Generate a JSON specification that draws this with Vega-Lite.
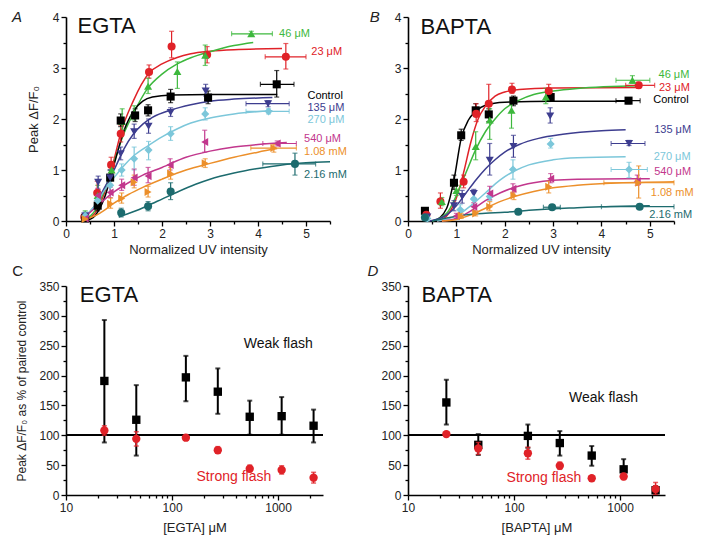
{
"$schema": "https://vega.github.io/schema/vega-lite/v6.json",
"background": "white",
"padding": {"left": 12, "top": 10, "right": 5, "bottom": 5},
"config": {
  "font": "Liberation Sans",
  "view": {"stroke": null},
  "axis": {"grid": false, "domainColor": "black", "domainWidth": 1.6, "tickColor": "black", "tickWidth": 1.3, "tickSize": 5, "labelColor": "#222", "labelFontSize": 12, "labelFont": "Liberation Sans", "titleFont": "Liberation Sans", "titleFontSize": 13, "titleFontWeight": "normal", "titleColor": "#222", "labelFlush": false, "labelPadding": 2, "labelOverlap": false}
},
"datasets": {
  "ptsA": [
    {"s":"23 μM","x":0.38,"y":0.08,"ylo":0.02,"yhi":0.14},
    {"s":"23 μM","x":0.65,"y":0.55,"ylo":0.38,"yhi":0.78},
    {"s":"23 μM","x":0.94,"y":1.1,"ylo":0.95,"yhi":1.25},
    {"s":"23 μM","x":1.14,"y":1.71,"ylo":1.55,"yhi":1.88},
    {"s":"23 μM","x":1.73,"y":2.92,"ylo":2.8,"yhi":3.06},
    {"s":"23 μM","x":2.2,"y":3.42,"ylo":3.2,"yhi":3.72},
    {"s":"23 μM","x":2.94,"y":3.26,"ylo":3.1,"yhi":3.42},
    {"s":"23 μM","x":4.58,"y":3.22,"ylo":2.98,"yhi":3.48,"xlo":4.15,"xhi":5.0},
    {"s":"46 μM","x":0.4,"y":0.12,"ylo":0.05,"yhi":0.2},
    {"s":"46 μM","x":0.66,"y":0.5,"ylo":0.32,"yhi":0.7},
    {"s":"46 μM","x":0.95,"y":1.0,"ylo":0.85,"yhi":1.15},
    {"s":"46 μM","x":1.17,"y":1.95,"ylo":1.8,"yhi":2.2},
    {"s":"46 μM","x":1.42,"y":2.12,"ylo":1.98,"yhi":2.26},
    {"s":"46 μM","x":1.71,"y":2.64,"ylo":2.5,"yhi":2.8},
    {"s":"46 μM","x":2.32,"y":2.93,"ylo":2.6,"yhi":3.12},
    {"s":"46 μM","x":2.9,"y":3.25,"ylo":3.05,"yhi":3.45},
    {"s":"46 μM","x":3.86,"y":3.67,"ylo":3.62,"yhi":3.72,"xlo":3.45,"xhi":4.3},
    {"s":"Control","x":0.4,"y":0.05,"ylo":0.0,"yhi":0.1},
    {"s":"Control","x":0.66,"y":0.3,"ylo":0.2,"yhi":0.42},
    {"s":"Control","x":0.92,"y":0.85,"ylo":0.7,"yhi":1.0},
    {"s":"Control","x":1.14,"y":1.97,"ylo":1.85,"yhi":2.1},
    {"s":"Control","x":1.44,"y":2.07,"ylo":1.95,"yhi":2.2},
    {"s":"Control","x":1.71,"y":2.17,"ylo":2.06,"yhi":2.28},
    {"s":"Control","x":2.18,"y":2.44,"ylo":2.32,"yhi":2.58},
    {"s":"Control","x":2.96,"y":2.42,"ylo":2.3,"yhi":2.55},
    {"s":"Control","x":4.39,"y":2.68,"ylo":2.43,"yhi":2.95,"xlo":4.05,"xhi":4.75},
    {"s":"135 μM","x":0.4,"y":0.1,"ylo":0.03,"yhi":0.17},
    {"s":"135 μM","x":0.67,"y":0.76,"ylo":0.62,"yhi":0.88},
    {"s":"135 μM","x":0.92,"y":0.85,"ylo":0.72,"yhi":1.0},
    {"s":"135 μM","x":1.14,"y":1.32,"ylo":1.2,"yhi":1.45},
    {"s":"135 μM","x":1.42,"y":1.75,"ylo":1.62,"yhi":1.9},
    {"s":"135 μM","x":1.72,"y":1.86,"ylo":1.72,"yhi":2.0},
    {"s":"135 μM","x":2.18,"y":2.13,"ylo":2.05,"yhi":2.22},
    {"s":"135 μM","x":2.91,"y":2.55,"ylo":2.45,"yhi":2.68},
    {"s":"135 μM","x":4.21,"y":2.3,"ylo":2.24,"yhi":2.36,"xlo":3.75,"xhi":4.65},
    {"s":"270 μM","x":0.4,"y":0.1,"ylo":0.03,"yhi":0.17},
    {"s":"270 μM","x":0.66,"y":0.4,"ylo":0.28,"yhi":0.52},
    {"s":"270 μM","x":0.92,"y":0.7,"ylo":0.56,"yhi":0.84},
    {"s":"270 μM","x":1.16,"y":1.0,"ylo":0.88,"yhi":1.12},
    {"s":"270 μM","x":1.42,"y":1.22,"ylo":1.0,"yhi":1.45},
    {"s":"270 μM","x":1.72,"y":1.39,"ylo":1.2,"yhi":1.56},
    {"s":"270 μM","x":2.18,"y":1.71,"ylo":1.58,"yhi":1.85},
    {"s":"270 μM","x":2.9,"y":2.1,"ylo":1.98,"yhi":2.22},
    {"s":"270 μM","x":4.22,"y":2.15,"ylo":2.1,"yhi":2.2,"xlo":3.75,"xhi":4.65},
    {"s":"540 μM","x":0.4,"y":0.05,"ylo":0.0,"yhi":0.1},
    {"s":"540 μM","x":0.66,"y":0.5,"ylo":0.36,"yhi":0.64},
    {"s":"540 μM","x":0.92,"y":0.56,"ylo":0.46,"yhi":0.66},
    {"s":"540 μM","x":1.16,"y":0.7,"ylo":0.6,"yhi":0.82},
    {"s":"540 μM","x":1.42,"y":0.85,"ylo":0.7,"yhi":1.02},
    {"s":"540 μM","x":1.71,"y":0.88,"ylo":0.75,"yhi":1.05},
    {"s":"540 μM","x":2.17,"y":1.1,"ylo":1.0,"yhi":1.22},
    {"s":"540 μM","x":2.89,"y":1.55,"ylo":1.35,"yhi":1.78},
    {"s":"540 μM","x":4.4,"y":1.52,"ylo":1.47,"yhi":1.57,"xlo":4.1,"xhi":4.8},
    {"s":"1.08 mM","x":0.4,"y":0.04,"ylo":0.0,"yhi":0.09},
    {"s":"1.08 mM","x":0.93,"y":0.34,"ylo":0.25,"yhi":0.45},
    {"s":"1.08 mM","x":1.16,"y":0.44,"ylo":0.35,"yhi":0.55},
    {"s":"1.08 mM","x":1.42,"y":0.76,"ylo":0.65,"yhi":0.9},
    {"s":"1.08 mM","x":1.71,"y":0.57,"ylo":0.47,"yhi":0.68},
    {"s":"1.08 mM","x":2.18,"y":0.93,"ylo":0.82,"yhi":1.05},
    {"s":"1.08 mM","x":2.9,"y":1.13,"ylo":1.05,"yhi":1.22},
    {"s":"1.08 mM","x":4.33,"y":1.43,"ylo":1.35,"yhi":1.5,"xlo":3.85,"xhi":4.8},
    {"s":"2.16 mM","x":1.15,"y":0.16,"ylo":0.08,"yhi":0.25},
    {"s":"2.16 mM","x":1.71,"y":0.29,"ylo":0.2,"yhi":0.38},
    {"s":"2.16 mM","x":2.18,"y":0.58,"ylo":0.42,"yhi":0.75},
    {"s":"2.16 mM","x":4.77,"y":1.12,"ylo":0.9,"yhi":1.33,"xlo":4.1,"xhi":5.2}
  ],
  "curveA": [
    {"s":"23 μM","x":0.35,"y":0},{"s":"23 μM","x":0.6,"y":0.15},{"s":"23 μM","x":0.8,"y":0.55},{"s":"23 μM","x":1.0,"y":1.2},{"s":"23 μM","x":1.14,"y":1.72},{"s":"23 μM","x":1.4,"y":2.35},{"s":"23 μM","x":1.73,"y":2.9},{"s":"23 μM","x":2.0,"y":3.08},{"s":"23 μM","x":2.3,"y":3.2},{"s":"23 μM","x":2.6,"y":3.28},{"s":"23 μM","x":3.0,"y":3.33},{"s":"23 μM","x":3.5,"y":3.36},{"s":"23 μM","x":4.5,"y":3.38},
    {"s":"46 μM","x":0.35,"y":0},{"s":"46 μM","x":0.6,"y":0.2},{"s":"46 μM","x":0.8,"y":0.6},{"s":"46 μM","x":1.0,"y":1.15},{"s":"46 μM","x":1.2,"y":1.7},{"s":"46 μM","x":1.4,"y":2.1},{"s":"46 μM","x":1.7,"y":2.6},{"s":"46 μM","x":2.0,"y":2.88},{"s":"46 μM","x":2.3,"y":3.07},{"s":"46 μM","x":2.6,"y":3.2},{"s":"46 μM","x":3.0,"y":3.32},{"s":"46 μM","x":3.5,"y":3.44},{"s":"46 μM","x":3.9,"y":3.5},
    {"s":"Control","x":0.4,"y":0},{"s":"Control","x":0.6,"y":0.1},{"s":"Control","x":0.8,"y":0.45},{"s":"Control","x":1.0,"y":1.1},{"s":"Control","x":1.2,"y":1.75},{"s":"Control","x":1.4,"y":2.15},{"s":"Control","x":1.6,"y":2.35},{"s":"Control","x":1.8,"y":2.43},{"s":"Control","x":2.2,"y":2.47},{"s":"Control","x":3.0,"y":2.48},{"s":"Control","x":4.4,"y":2.48},
    {"s":"135 μM","x":0.35,"y":0.05},{"s":"135 μM","x":0.6,"y":0.3},{"s":"135 μM","x":0.8,"y":0.65},{"s":"135 μM","x":1.0,"y":1.0},{"s":"135 μM","x":1.2,"y":1.4},{"s":"135 μM","x":1.4,"y":1.7},{"s":"135 μM","x":1.6,"y":1.9},{"s":"135 μM","x":1.8,"y":2.03},{"s":"135 μM","x":2.2,"y":2.18},{"s":"135 μM","x":2.6,"y":2.28},{"s":"135 μM","x":3.0,"y":2.35},{"s":"135 μM","x":3.5,"y":2.39},{"s":"135 μM","x":4.3,"y":2.42},
    {"s":"270 μM","x":0.35,"y":0.05},{"s":"270 μM","x":0.6,"y":0.3},{"s":"270 μM","x":0.8,"y":0.6},{"s":"270 μM","x":1.0,"y":0.85},{"s":"270 μM","x":1.2,"y":1.08},{"s":"270 μM","x":1.4,"y":1.27},{"s":"270 μM","x":1.7,"y":1.47},{"s":"270 μM","x":2.0,"y":1.65},{"s":"270 μM","x":2.3,"y":1.8},{"s":"270 μM","x":2.6,"y":1.92},{"s":"270 μM","x":3.0,"y":2.02},{"s":"270 μM","x":3.5,"y":2.1},{"s":"270 μM","x":4.3,"y":2.16},
    {"s":"540 μM","x":0.35,"y":0.05},{"s":"540 μM","x":0.6,"y":0.25},{"s":"540 μM","x":0.8,"y":0.42},{"s":"540 μM","x":1.0,"y":0.57},{"s":"540 μM","x":1.3,"y":0.75},{"s":"540 μM","x":1.6,"y":0.9},{"s":"540 μM","x":2.0,"y":1.05},{"s":"540 μM","x":2.5,"y":1.25},{"s":"540 μM","x":3.0,"y":1.37},{"s":"540 μM","x":3.5,"y":1.45},{"s":"540 μM","x":4.0,"y":1.5},{"s":"540 μM","x":4.6,"y":1.54},
    {"s":"1.08 mM","x":0.4,"y":0.03},{"s":"1.08 mM","x":0.7,"y":0.15},{"s":"1.08 mM","x":1.0,"y":0.35},{"s":"1.08 mM","x":1.3,"y":0.52},{"s":"1.08 mM","x":1.6,"y":0.66},{"s":"1.08 mM","x":2.0,"y":0.82},{"s":"1.08 mM","x":2.5,"y":1.0},{"s":"1.08 mM","x":3.0,"y":1.13},{"s":"1.08 mM","x":3.5,"y":1.25},{"s":"1.08 mM","x":4.0,"y":1.35},{"s":"1.08 mM","x":4.4,"y":1.42},
    {"s":"2.16 mM","x":1.1,"y":0.08},{"s":"2.16 mM","x":1.4,"y":0.18},{"s":"2.16 mM","x":1.7,"y":0.3},{"s":"2.16 mM","x":2.0,"y":0.43},{"s":"2.16 mM","x":2.3,"y":0.56},{"s":"2.16 mM","x":2.7,"y":0.72},{"s":"2.16 mM","x":3.0,"y":0.82},{"s":"2.16 mM","x":3.5,"y":0.94},{"s":"2.16 mM","x":4.0,"y":1.03},{"s":"2.16 mM","x":4.5,"y":1.1},{"s":"2.16 mM","x":5.0,"y":1.14},{"s":"2.16 mM","x":5.5,"y":1.16}
  ],
  "labA": [
    {"s":"46 μM","x":4.44,"y":3.67},{"s":"23 μM","x":5.11,"y":3.31},{"s":"Control","x":5.03,"y":2.45},{"s":"135 μM","x":5.03,"y":2.21},{"s":"270 μM","x":5.03,"y":1.99},{"s":"540 μM","x":4.96,"y":1.6},{"s":"1.08 mM","x":4.96,"y":1.36},{"s":"2.16 mM","x":4.96,"y":0.91}
  ],
  "ptsB": [
    {"s":"Control","x":0.35,"y":0.2,"ylo":0.15,"yhi":0.25},
    {"s":"Control","x":0.95,"y":0.75,"ylo":0.62,"yhi":0.9},
    {"s":"Control","x":1.1,"y":1.68,"ylo":1.58,"yhi":1.8},
    {"s":"Control","x":1.4,"y":2.17,"ylo":2.05,"yhi":2.3},
    {"s":"Control","x":1.67,"y":2.09,"ylo":1.95,"yhi":2.2},
    {"s":"Control","x":2.18,"y":2.36,"ylo":2.26,"yhi":2.45},
    {"s":"Control","x":2.95,"y":2.43,"ylo":2.35,"yhi":2.5},
    {"s":"Control","x":4.56,"y":2.36,"ylo":2.3,"yhi":2.42,"xlo":4.3,"xhi":4.8},
    {"s":"23 μM","x":0.38,"y":0.12,"ylo":0.05,"yhi":0.2},
    {"s":"23 μM","x":0.67,"y":0.38,"ylo":0.25,"yhi":0.55},
    {"s":"23 μM","x":1.15,"y":0.77,"ylo":0.65,"yhi":0.9},
    {"s":"23 μM","x":1.41,"y":2.1,"ylo":1.95,"yhi":2.3},
    {"s":"23 μM","x":1.67,"y":2.3,"ylo":2.1,"yhi":2.68},
    {"s":"23 μM","x":2.15,"y":2.58,"ylo":2.5,"yhi":2.7},
    {"s":"23 μM","x":2.91,"y":2.55,"ylo":2.45,"yhi":2.68},
    {"s":"23 μM","x":4.77,"y":2.66,"ylo":2.6,"yhi":2.72,"xlo":4.5,"xhi":5.1},
    {"s":"46 μM","x":0.7,"y":0.38,"ylo":0.3,"yhi":0.46},
    {"s":"46 μM","x":1.0,"y":0.6,"ylo":0.5,"yhi":0.7},
    {"s":"46 μM","x":1.4,"y":1.46,"ylo":1.2,"yhi":1.75},
    {"s":"46 μM","x":1.69,"y":1.98,"ylo":1.6,"yhi":2.2},
    {"s":"46 μM","x":2.14,"y":2.17,"ylo":1.82,"yhi":2.35},
    {"s":"46 μM","x":2.85,"y":2.43,"ylo":2.3,"yhi":2.6},
    {"s":"46 μM","x":4.64,"y":2.76,"ylo":2.7,"yhi":2.85,"xlo":4.3,"xhi":5.0},
    {"s":"135 μM","x":0.4,"y":0.08,"ylo":0.03,"yhi":0.13},
    {"s":"135 μM","x":0.95,"y":0.3,"ylo":0.2,"yhi":0.4},
    {"s":"135 μM","x":1.12,"y":0.48,"ylo":0.35,"yhi":0.6},
    {"s":"135 μM","x":1.36,"y":0.54,"ylo":0.45,"yhi":0.62},
    {"s":"135 μM","x":1.69,"y":1.19,"ylo":0.9,"yhi":1.52},
    {"s":"135 μM","x":2.18,"y":1.46,"ylo":1.25,"yhi":1.68},
    {"s":"135 μM","x":2.94,"y":2.06,"ylo":1.92,"yhi":2.22},
    {"s":"135 μM","x":4.57,"y":1.52,"ylo":1.48,"yhi":1.58,"xlo":4.2,"xhi":4.9},
    {"s":"270 μM","x":0.4,"y":0.05,"ylo":0.0,"yhi":0.1},
    {"s":"270 μM","x":1.08,"y":0.22,"ylo":0.12,"yhi":0.32},
    {"s":"270 μM","x":1.36,"y":0.43,"ylo":0.33,"yhi":0.55},
    {"s":"270 μM","x":1.69,"y":0.48,"ylo":0.4,"yhi":0.58},
    {"s":"270 μM","x":2.17,"y":1.01,"ylo":0.82,"yhi":1.2},
    {"s":"270 μM","x":2.95,"y":1.51,"ylo":1.43,"yhi":1.62},
    {"s":"270 μM","x":4.57,"y":1.01,"ylo":0.85,"yhi":1.15,"xlo":4.2,"xhi":4.95},
    {"s":"540 μM","x":1.0,"y":0.1,"ylo":0.05,"yhi":0.15},
    {"s":"540 μM","x":1.36,"y":0.28,"ylo":0.2,"yhi":0.36},
    {"s":"540 μM","x":1.69,"y":0.54,"ylo":0.42,"yhi":0.68},
    {"s":"540 μM","x":2.17,"y":0.63,"ylo":0.55,"yhi":0.73},
    {"s":"540 μM","x":2.95,"y":0.83,"ylo":0.75,"yhi":0.93},
    {"s":"540 μM","x":4.74,"y":0.78,"ylo":0.7,"yhi":0.9},
    {"s":"1.08 mM","x":1.1,"y":0.1,"ylo":0.05,"yhi":0.15},
    {"s":"1.08 mM","x":1.4,"y":0.15,"ylo":0.1,"yhi":0.2},
    {"s":"1.08 mM","x":1.69,"y":0.28,"ylo":0.2,"yhi":0.38},
    {"s":"1.08 mM","x":2.19,"y":0.5,"ylo":0.42,"yhi":0.58},
    {"s":"1.08 mM","x":2.91,"y":0.67,"ylo":0.55,"yhi":0.78},
    {"s":"1.08 mM","x":4.77,"y":0.75,"ylo":0.45,"yhi":1.08,"xlo":4.05,"xhi":5.5},
    {"s":"2.16 mM","x":0.35,"y":0.07,"ylo":0.03,"yhi":0.11},
    {"s":"2.16 mM","x":2.28,"y":0.18,"ylo":0.15,"yhi":0.21},
    {"s":"2.16 mM","x":2.98,"y":0.27,"ylo":0.24,"yhi":0.3,"xlo":2.8,"xhi":3.15},
    {"s":"2.16 mM","x":4.79,"y":0.28,"ylo":0.25,"yhi":0.32,"xlo":4.0,"xhi":5.5}
  ],
  "curveB": [
    {"s":"Control","x":0.55,"y":0},{"s":"Control","x":0.8,"y":0.25},{"s":"Control","x":0.95,"y":0.8},{"s":"Control","x":1.1,"y":1.62},{"s":"Control","x":1.25,"y":1.98},{"s":"Control","x":1.4,"y":2.15},{"s":"Control","x":1.6,"y":2.27},{"s":"Control","x":2.0,"y":2.33},{"s":"Control","x":3.0,"y":2.35},{"s":"Control","x":4.6,"y":2.35},
    {"s":"23 μM","x":0.6,"y":0},{"s":"23 μM","x":0.8,"y":0.1},{"s":"23 μM","x":1.0,"y":0.45},{"s":"23 μM","x":1.15,"y":0.95},{"s":"23 μM","x":1.3,"y":1.55},{"s":"23 μM","x":1.45,"y":2.0},{"s":"23 μM","x":1.6,"y":2.25},{"s":"23 μM","x":1.8,"y":2.45},{"s":"23 μM","x":2.0,"y":2.53},{"s":"23 μM","x":2.3,"y":2.58},{"s":"23 μM","x":3.0,"y":2.61},{"s":"23 μM","x":4.8,"y":2.62},
    {"s":"46 μM","x":0.5,"y":0},{"s":"46 μM","x":0.8,"y":0.15},{"s":"46 μM","x":1.0,"y":0.5},{"s":"46 μM","x":1.2,"y":0.95},{"s":"46 μM","x":1.4,"y":1.4},{"s":"46 μM","x":1.6,"y":1.75},{"s":"46 μM","x":1.8,"y":2.0},{"s":"46 μM","x":2.0,"y":2.2},{"s":"46 μM","x":2.3,"y":2.37},{"s":"46 μM","x":2.6,"y":2.48},{"s":"46 μM","x":3.0,"y":2.55},{"s":"46 μM","x":3.5,"y":2.6},{"s":"46 μM","x":4.8,"y":2.65},
    {"s":"135 μM","x":0.45,"y":0},{"s":"135 μM","x":0.8,"y":0.12},{"s":"135 μM","x":1.0,"y":0.3},{"s":"135 μM","x":1.2,"y":0.55},{"s":"135 μM","x":1.4,"y":0.8},{"s":"135 μM","x":1.6,"y":1.02},{"s":"135 μM","x":1.8,"y":1.2},{"s":"135 μM","x":2.0,"y":1.35},{"s":"135 μM","x":2.3,"y":1.5},{"s":"135 μM","x":2.7,"y":1.62},{"s":"135 μM","x":3.2,"y":1.7},{"s":"135 μM","x":4.0,"y":1.77},{"s":"135 μM","x":4.5,"y":1.79},
    {"s":"270 μM","x":0.6,"y":0},{"s":"270 μM","x":1.0,"y":0.1},{"s":"270 μM","x":1.3,"y":0.3},{"s":"270 μM","x":1.6,"y":0.55},{"s":"270 μM","x":1.9,"y":0.8},{"s":"270 μM","x":2.2,"y":0.98},{"s":"270 μM","x":2.5,"y":1.1},{"s":"270 μM","x":3.0,"y":1.2},{"s":"270 μM","x":3.5,"y":1.24},{"s":"270 μM","x":4.5,"y":1.26},
    {"s":"540 μM","x":0.7,"y":0},{"s":"540 μM","x":1.0,"y":0.05},{"s":"540 μM","x":1.3,"y":0.2},{"s":"540 μM","x":1.6,"y":0.4},{"s":"540 μM","x":1.9,"y":0.55},{"s":"540 μM","x":2.2,"y":0.66},{"s":"540 μM","x":2.6,"y":0.75},{"s":"540 μM","x":3.0,"y":0.8},{"s":"540 μM","x":3.5,"y":0.82},{"s":"540 μM","x":5.0,"y":0.83},
    {"s":"1.08 mM","x":0.7,"y":0},{"s":"1.08 mM","x":1.0,"y":0.03},{"s":"1.08 mM","x":1.3,"y":0.12},{"s":"1.08 mM","x":1.6,"y":0.25},{"s":"1.08 mM","x":1.9,"y":0.38},{"s":"1.08 mM","x":2.2,"y":0.48},{"s":"1.08 mM","x":2.6,"y":0.58},{"s":"1.08 mM","x":3.0,"y":0.65},{"s":"1.08 mM","x":3.5,"y":0.7},{"s":"1.08 mM","x":4.2,"y":0.74},{"s":"1.08 mM","x":5.5,"y":0.77},
    {"s":"2.16 mM","x":0.5,"y":0},{"s":"2.16 mM","x":0.8,"y":0.06},{"s":"2.16 mM","x":1.2,"y":0.12},{"s":"2.16 mM","x":1.6,"y":0.15},{"s":"2.16 mM","x":2.0,"y":0.17},{"s":"2.16 mM","x":2.5,"y":0.21},{"s":"2.16 mM","x":3.0,"y":0.24},{"s":"2.16 mM","x":3.5,"y":0.26},{"s":"2.16 mM","x":4.0,"y":0.28},{"s":"2.16 mM","x":5.0,"y":0.3}
  ],
  "labB": [
    {"s":"46 μM","x":5.18,"y":2.86},{"s":"23 μM","x":5.19,"y":2.6},{"s":"Control","x":5.07,"y":2.37},{"s":"135 μM","x":5.09,"y":1.79},{"s":"270 μM","x":5.08,"y":1.26},{"s":"540 μM","x":5.09,"y":0.97},{"s":"1.08 mM","x":5.02,"y":0.55},{"s":"2.16 mM","x":4.99,"y":0.12}
  ],
  "pctC": [
    {"f":"Weak","c":23,"y":191,"lo":88,"hi":293},
    {"f":"Weak","c":46,"y":126,"lo":66,"hi":184},
    {"f":"Weak","c":135,"y":197,"lo":157,"hi":233},
    {"f":"Weak","c":270,"y":173,"lo":136,"hi":212},
    {"f":"Weak","c":540,"y":131,"lo":101,"hi":158},
    {"f":"Weak","c":1080,"y":132,"lo":101,"hi":164},
    {"f":"Weak","c":2160,"y":116,"lo":88,"hi":143},
    {"f":"Strong","c":23,"y":108,"lo":100,"hi":116},
    {"f":"Strong","c":46,"y":94,"lo":82,"hi":106},
    {"f":"Strong","c":135,"y":96,"lo":93,"hi":99},
    {"f":"Strong","c":270,"y":75,"lo":70,"hi":81},
    {"f":"Strong","c":540,"y":44,"lo":39,"hi":50},
    {"f":"Strong","c":1080,"y":42,"lo":35,"hi":49},
    {"f":"Strong","c":2160,"y":29,"lo":20,"hi":38}
  ],
  "pctD": [
    {"f":"Weak","c":23,"y":155,"lo":118,"hi":193},
    {"f":"Weak","c":46,"y":84,"lo":67,"hi":102},
    {"f":"Weak","c":135,"y":99,"lo":79,"hi":118},
    {"f":"Weak","c":270,"y":87,"lo":66,"hi":107},
    {"f":"Weak","c":540,"y":66,"lo":49,"hi":82},
    {"f":"Weak","c":1080,"y":43,"lo":29,"hi":60},
    {"f":"Weak","c":2160,"y":8,"lo":2,"hi":15},
    {"f":"Strong","c":23,"y":102,"lo":98,"hi":106},
    {"f":"Strong","c":46,"y":78,"lo":68,"hi":88},
    {"f":"Strong","c":135,"y":70,"lo":60,"hi":80},
    {"f":"Strong","c":270,"y":49,"lo":43,"hi":55},
    {"f":"Strong","c":540,"y":28,"lo":24,"hi":32},
    {"f":"Strong","c":1080,"y":31,"lo":26,"hi":36},
    {"f":"Strong","c":2160,"y":10,"lo":1,"hi":21}
  ]
},
"columns": 2,
"spacing": {"row": 65, "column": 78},
"bounds": "flush",
"align": "each",
"concat": [
  {
    "width": 264, "height": 204,
    "resolve": {"axis": {"x": "independent", "y": "independent"}},
    "layer": [
      {"data": {"name": "curveA"}, "mark": {"type": "line", "interpolate": "monotone", "strokeWidth": 1.5},
       "encoding": {
         "x": {"field": "x", "type": "quantitative", "scale": {"domain": [0, 5.5], "nice": false}, "axis": {"title": "Normalized UV intensity", "values": [0,1,2,3,4,5], "format": "d", "titlePadding": 4}},
         "y": {"field": "y", "type": "quantitative", "scale": {"domain": [0, 4], "nice": false}, "axis": {"title": "Peak ΔF/F₀", "values": [0,1,2,3,4], "format": "d", "titlePadding": 12}},
         "color": {"field": "s", "type": "nominal", "legend": null, "scale": {"domain": ["23 μM","46 μM","Control","135 μM","270 μM","540 μM","1.08 mM","2.16 mM"], "range": ["#e02228","#3db83d","#000000","#3d3d8f","#7cc7da","#c2378d","#ec8f2a","#1c6b6e"]}}
       }},
      {"data": {"name": "ptsA"}, "mark": {"type": "errorbar", "ticks": true, "thickness": 1.2},
       "encoding": {
         "x": {"field": "x", "type": "quantitative", "axis": null},
         "y": {"field": "ylo", "type": "quantitative", "axis": null},
         "y2": {"field": "yhi"},
         "color": {"field": "s", "type": "nominal", "legend": null}
       }},
      {"data": {"name": "ptsA"}, "transform": [{"filter": "isValid(datum.xlo)"}], "mark": {"type": "errorbar", "ticks": true, "thickness": 1.2},
       "encoding": {
         "y": {"field": "y", "type": "quantitative", "axis": null},
         "x": {"field": "xlo", "type": "quantitative", "axis": null},
         "x2": {"field": "xhi"},
         "color": {"field": "s", "type": "nominal", "legend": null}
       }},
      {"data": {"name": "ptsA"}, "mark": {"type": "point", "filled": true, "size": 65, "opacity": 1},
       "encoding": {
         "x": {"field": "x", "type": "quantitative", "axis": {"orient": "bottom", "values": [0.5,1.5,2.5,3.5,4.5,5.5], "labels": false, "domain": false, "tickSize": 3, "title": null}},
         "y": {"field": "y", "type": "quantitative", "axis": {"orient": "left", "values": [0.5,1.5,2.5,3.5], "labels": false, "domain": false, "tickSize": 3, "title": null}},
         "color": {"field": "s", "type": "nominal", "legend": null},
         "shape": {"field": "s", "type": "nominal", "legend": null, "scale": {"domain": ["23 μM","46 μM","Control","135 μM","270 μM","540 μM","1.08 mM","2.16 mM"], "range": ["circle","triangle-up","square","triangle-down","diamond","triangle-left","triangle-right","circle"]}}
       }},
      {"data": {"name": "labA"}, "mark": {"type": "text", "align": "left", "baseline": "middle", "fontSize": 11},
       "encoding": {
         "x": {"field": "x", "type": "quantitative", "axis": null},
         "y": {"field": "y", "type": "quantitative", "axis": null},
         "text": {"field": "s"},
         "color": {"field": "s", "type": "nominal", "legend": null}
       }},
      {"data": {"values": [{"x": 0.24, "y": 3.82, "t": "EGTA"}]}, "mark": {"type": "text", "align": "left", "baseline": "middle", "fontSize": 22, "color": "#111"},
       "encoding": {"x": {"field": "x", "type": "quantitative", "axis": null}, "y": {"field": "y", "type": "quantitative", "axis": null}, "text": {"field": "t"}}},
      {"data": {"values": [{"x": -1.02, "y": 4.0, "t": "A"}]}, "mark": {"type": "text", "align": "center", "baseline": "middle", "fontSize": 15, "fontStyle": "italic", "color": "#222"},
       "encoding": {"x": {"field": "x", "type": "quantitative", "axis": null}, "y": {"field": "y", "type": "quantitative", "axis": null}, "text": {"field": "t"}}}
    ]
  },
  {
    "width": 266, "height": 204,
    "resolve": {"axis": {"x": "independent", "y": "independent"}},
    "layer": [
      {"data": {"name": "curveB"}, "mark": {"type": "line", "interpolate": "monotone", "strokeWidth": 1.5},
       "encoding": {
         "x": {"field": "x", "type": "quantitative", "scale": {"domain": [0, 5.5], "nice": false}, "axis": {"title": "Normalized UV intensity", "values": [0,1,2,3,4,5], "format": "d", "titlePadding": 4}},
         "y": {"field": "y", "type": "quantitative", "scale": {"domain": [0, 4], "nice": false}, "axis": {"title": null, "values": [0,1,2,3,4], "format": "d"}},
         "color": {"field": "s", "type": "nominal", "legend": null, "scale": {"domain": ["23 μM","46 μM","Control","135 μM","270 μM","540 μM","1.08 mM","2.16 mM"], "range": ["#e02228","#3db83d","#000000","#3d3d8f","#7cc7da","#c2378d","#ec8f2a","#1c6b6e"]}}
       }},
      {"data": {"name": "ptsB"}, "mark": {"type": "errorbar", "ticks": true, "thickness": 1.2},
       "encoding": {
         "x": {"field": "x", "type": "quantitative", "axis": null},
         "y": {"field": "ylo", "type": "quantitative", "axis": null},
         "y2": {"field": "yhi"},
         "color": {"field": "s", "type": "nominal", "legend": null}
       }},
      {"data": {"name": "ptsB"}, "transform": [{"filter": "isValid(datum.xlo)"}], "mark": {"type": "errorbar", "ticks": true, "thickness": 1.2},
       "encoding": {
         "y": {"field": "y", "type": "quantitative", "axis": null},
         "x": {"field": "xlo", "type": "quantitative", "axis": null},
         "x2": {"field": "xhi"},
         "color": {"field": "s", "type": "nominal", "legend": null}
       }},
      {"data": {"name": "ptsB"}, "mark": {"type": "point", "filled": true, "size": 65, "opacity": 1},
       "encoding": {
         "x": {"field": "x", "type": "quantitative", "axis": {"orient": "bottom", "values": [0.5,1.5,2.5,3.5,4.5,5.5], "labels": false, "domain": false, "tickSize": 3, "title": null}},
         "y": {"field": "y", "type": "quantitative", "axis": {"orient": "left", "values": [0.5,1.5,2.5,3.5], "labels": false, "domain": false, "tickSize": 3, "title": null}},
         "color": {"field": "s", "type": "nominal", "legend": null},
         "shape": {"field": "s", "type": "nominal", "legend": null, "scale": {"domain": ["23 μM","46 μM","Control","135 μM","270 μM","540 μM","1.08 mM","2.16 mM"], "range": ["circle","triangle-up","square","triangle-down","diamond","triangle-left","triangle-right","circle"]}}
       }},
      {"data": {"name": "labB"}, "mark": {"type": "text", "align": "left", "baseline": "middle", "fontSize": 11},
       "encoding": {
         "x": {"field": "x", "type": "quantitative", "axis": null},
         "y": {"field": "y", "type": "quantitative", "axis": null},
         "text": {"field": "s"},
         "color": {"field": "s", "type": "nominal", "legend": null}
       }},
      {"data": {"values": [{"x": 0.26, "y": 3.8, "t": "BAPTA"}]}, "mark": {"type": "text", "align": "left", "baseline": "middle", "fontSize": 22, "color": "#111"},
       "encoding": {"x": {"field": "x", "type": "quantitative", "axis": null}, "y": {"field": "y", "type": "quantitative", "axis": null}, "text": {"field": "t"}}},
      {"data": {"values": [{"x": -0.69, "y": 4.0, "t": "B"}]}, "mark": {"type": "text", "align": "center", "baseline": "middle", "fontSize": 15, "fontStyle": "italic", "color": "#222"},
       "encoding": {"x": {"field": "x", "type": "quantitative", "axis": null}, "y": {"field": "y", "type": "quantitative", "axis": null}, "text": {"field": "t"}}}
    ]
  },
  {
    "width": 257, "height": 209,
    "data": {"name": "pctC"},
    "resolve": {"axis": {"x": "independent", "y": "independent"}},
    "layer": [
      {"mark": {"type": "rule", "color": "black", "strokeWidth": 1.2},
       "encoding": {"y": {"datum": 100, "type": "quantitative", "scale": {"domain": [0, 350], "nice": false}, "axis": {"title": "Peak ΔF/F₀ as % of paired control", "titleFontSize": 12, "values": [0,50,100,150,200,250,300,350], "titlePadding": 10}}}},
      {"transform": [{"filter": "datum.f == 'Weak'"}], "mark": {"type": "errorbar", "ticks": true, "thickness": 2, "color": "black"},
       "encoding": {
         "x": {"field": "c", "type": "quantitative", "scale": {"type": "log", "domain": [10, 2650], "nice": false}, "axis": {"title": "[EGTA] μM", "values": [10, 100, 1000], "format": "d", "titlePadding": 8}},
         "y": {"field": "lo", "type": "quantitative", "axis": {"orient": "left", "values": [25,75,125,175,225,275,325], "labels": false, "domain": false, "tickSize": 3, "title": null}},
         "y2": {"field": "hi"}
       }},
      {"transform": [{"filter": "datum.f == 'Weak'"}], "mark": {"type": "square", "size": 70, "color": "black", "opacity": 1},
       "encoding": {"x": {"field": "c", "type": "quantitative", "axis": {"orient": "bottom", "values": [20,30,40,50,60,70,80,90,200,300,400,500,600,700,800,900,2000], "labels": false, "domain": false, "tickSize": 3, "title": null}}, "y": {"field": "y", "type": "quantitative", "axis": null}}},
      {"transform": [{"filter": "datum.f == 'Strong'"}], "mark": {"type": "errorbar", "ticks": true, "thickness": 1.5, "color": "#e02228"},
       "encoding": {
         "x": {"field": "c", "type": "quantitative", "axis": null},
         "y": {"field": "lo", "type": "quantitative", "axis": null},
         "y2": {"field": "hi"}
       }},
      {"transform": [{"filter": "datum.f == 'Strong'"}], "mark": {"type": "circle", "size": 70, "color": "#e02228", "opacity": 1},
       "encoding": {"x": {"field": "c", "type": "quantitative", "axis": null}, "y": {"field": "y", "type": "quantitative", "axis": null}}},
      {"data": {"values": [{"x": 13.5, "y": 335, "t": "EGTA", "k": "big"}, {"x": 474, "y": 253, "t": "Weak flash", "k": "weak"}, {"x": 170, "y": 30, "t": "Strong flash", "k": "strong"}]},
       "mark": {"type": "text", "align": "left", "baseline": "middle"},
       "encoding": {
         "x": {"field": "x", "type": "quantitative", "axis": null},
         "y": {"field": "y", "type": "quantitative", "axis": null},
         "text": {"field": "t"},
         "align": {"condition": {"test": "datum.k == 'big'", "value": "left"}, "value": "center"},
         "size": {"condition": {"test": "datum.k == 'big'", "value": 22}, "value": 14},
         "color": {"condition": {"test": "datum.k == 'strong'", "value": "#e02228"}, "value": "#111"}
       }},
      {"data": {"values": [{"x": 3.5, "y": 375, "t": "C"}]}, "mark": {"type": "text", "align": "center", "baseline": "middle", "fontSize": 15, "color": "#222"},
       "encoding": {"x": {"field": "x", "type": "quantitative", "axis": null}, "y": {"field": "y", "type": "quantitative", "axis": null}, "text": {"field": "t"}}}
    ]
  },
  {
    "width": 257, "height": 209,
    "data": {"name": "pctD"},
    "resolve": {"axis": {"x": "independent", "y": "independent"}},
    "layer": [
      {"mark": {"type": "rule", "color": "black", "strokeWidth": 1.2},
       "encoding": {"y": {"datum": 100, "type": "quantitative", "scale": {"domain": [0, 350], "nice": false}, "axis": {"title": null, "values": [0,50,100,150,200,250,300,350]}}}},
      {"transform": [{"filter": "datum.f == 'Weak'"}], "mark": {"type": "errorbar", "ticks": true, "thickness": 2, "color": "black"},
       "encoding": {
         "x": {"field": "c", "type": "quantitative", "scale": {"type": "log", "domain": [10, 2650], "nice": false}, "axis": {"title": "[BAPTA] μM", "values": [10, 100, 1000], "format": "d", "titlePadding": 8}},
         "y": {"field": "lo", "type": "quantitative", "axis": {"orient": "left", "values": [25,75,125,175,225,275,325], "labels": false, "domain": false, "tickSize": 3, "title": null}},
         "y2": {"field": "hi"}
       }},
      {"transform": [{"filter": "datum.f == 'Weak'"}], "mark": {"type": "square", "size": 70, "color": "black", "opacity": 1},
       "encoding": {"x": {"field": "c", "type": "quantitative", "axis": {"orient": "bottom", "values": [20,30,40,50,60,70,80,90,200,300,400,500,600,700,800,900,2000], "labels": false, "domain": false, "tickSize": 3, "title": null}}, "y": {"field": "y", "type": "quantitative", "axis": null}}},
      {"transform": [{"filter": "datum.f == 'Strong'"}], "mark": {"type": "errorbar", "ticks": true, "thickness": 1.5, "color": "#e02228"},
       "encoding": {
         "x": {"field": "c", "type": "quantitative", "axis": null},
         "y": {"field": "lo", "type": "quantitative", "axis": null},
         "y2": {"field": "hi"}
       }},
      {"transform": [{"filter": "datum.f == 'Strong'"}], "mark": {"type": "circle", "size": 70, "color": "#e02228", "opacity": 1},
       "encoding": {"x": {"field": "c", "type": "quantitative", "axis": null}, "y": {"field": "y", "type": "quantitative", "axis": null}}},
      {"data": {"values": [{"x": 13.4, "y": 335, "t": "BAPTA", "k": "big"}, {"x": 330, "y": 162, "t": "Weak flash", "k": "weak"}, {"x": 85, "y": 28, "t": "Strong flash", "k": "strong"}]},
       "mark": {"type": "text", "align": "left", "baseline": "middle"},
       "encoding": {
         "x": {"field": "x", "type": "quantitative", "axis": null},
         "y": {"field": "y", "type": "quantitative", "axis": null},
         "text": {"field": "t"},
         "align": {"condition": {"test": "datum.k == 'big'", "value": "left"}, "value": "center"},
         "size": {"condition": {"test": "datum.k == 'big'", "value": 22}, "value": 14},
         "color": {"condition": {"test": "datum.k == 'strong'", "value": "#e02228"}, "value": "#111"}
       }},
      {"data": {"values": [{"x": 4.68, "y": 375, "t": "D"}]}, "mark": {"type": "text", "align": "center", "baseline": "middle", "fontSize": 15, "fontStyle": "italic", "color": "#222"},
       "encoding": {"x": {"field": "x", "type": "quantitative", "axis": null}, "y": {"field": "y", "type": "quantitative", "axis": null}, "text": {"field": "t"}}}
    ]
  }
]
}
